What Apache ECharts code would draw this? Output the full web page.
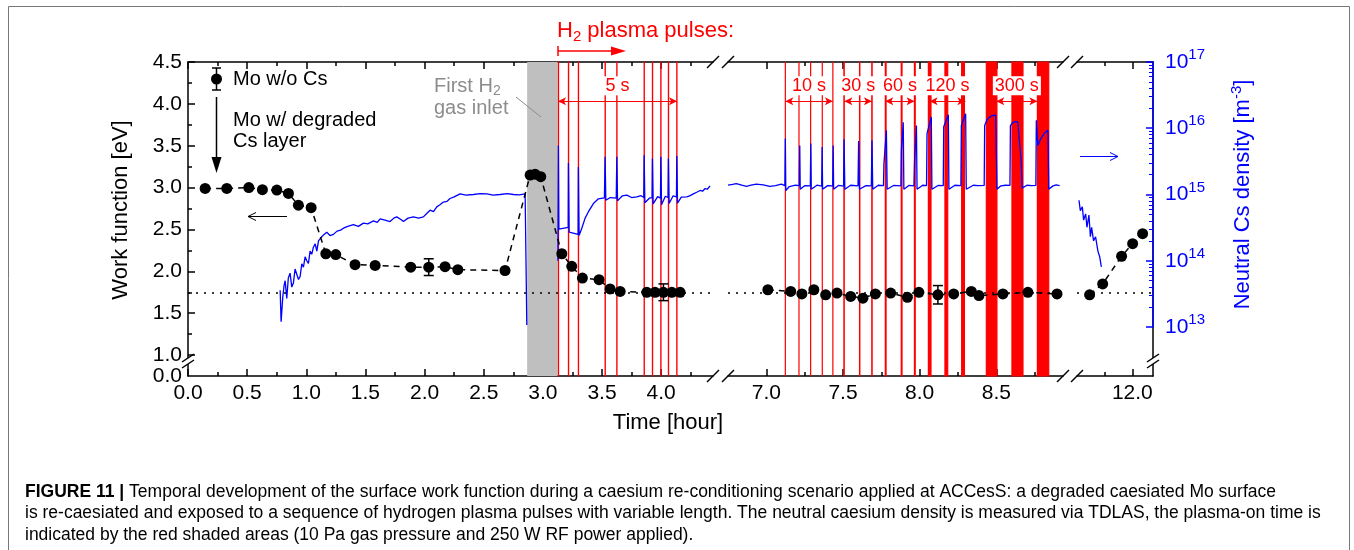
<!DOCTYPE html>
<html>
<head>
<meta charset="utf-8">
<title>Work function and neutral Cs density</title>
<script src="https://cdn.jsdelivr.net/npm/echarts@6/dist/echarts.min.js"></script>
<style>
  html, body { margin: 0; padding: 0; background: #fff; }
  #chart { width: 1354px; height: 550px; }
</style>
</head>
<body>
<div id="chart"></div>
<script>
// ---- values ----
// work function [eV], three time windows [hour]
const wfTime1 = [0.145, 0.328, 0.514, 0.629, 0.751, 0.849, 0.933, 1.041, 1.165, 1.249, 1.412, 1.582, 1.883, 2.035, 2.173, 2.281, 2.680, 2.892, 2.934, 2.982, 3.160, 3.244, 3.334, 3.475, 3.568, 3.653, 3.878, 3.948, 4.019, 4.090, 4.160];
const wfVal1 = [2.99, 2.99, 3.00, 2.975, 2.97, 2.93, 2.79, 2.76, 2.21, 2.20, 2.08, 2.07, 2.05, 2.05, 2.055, 2.02, 2.01, 3.15, 3.16, 3.13, 2.21, 2.06, 1.92, 1.90, 1.79, 1.76, 1.75, 1.75, 1.75, 1.75, 1.75];
const wfTime2 = [7.010, 7.159, 7.232, 7.310, 7.387, 7.461, 7.550, 7.630, 7.711, 7.811, 7.920, 7.995, 8.119, 8.222, 8.337, 8.387, 8.543, 8.706, 8.896];
const wfVal2 = [1.78, 1.76, 1.73, 1.78, 1.72, 1.74, 1.70, 1.68, 1.73, 1.74, 1.69, 1.75, 1.72, 1.73, 1.76, 1.71, 1.73, 1.75, 1.73];
const wfTime3 = [11.614, 11.732, 11.903, 12.003, 12.093];
const wfVal3 = [1.72, 1.85, 2.18, 2.33, 2.45];
const wfRef = 1.75; // dotted reference level

// error bars: [time, value, half width]
const errBars1 = [[2.035, 2.05, 0.10], [4.019, 1.75, 0.10]];
const errBars2 = [[8.119, 1.72, 0.11]];

// first H2 gas inlet (grey) and plasma pulses (red) [hour]
const gasInlet = [2.867, 3.124];
const pulseStart1 = [3.131, 3.216, 3.300, 3.526, 3.625, 3.856, 3.926, 3.997, 4.061, 4.132];
const pulseStart2 = [7.124, 7.213, 7.289, 7.365, 7.434, 7.506, 7.608, 7.688, 7.776, 7.880, 7.966, 8.057, 8.165, 8.274, 8.435, 8.602, 8.768];
const pulseEnd2 = [7.124, 7.213, 7.289, 7.365, 7.434, 7.508, 7.610, 7.690, 7.781, 7.885, 7.971, 8.074, 8.183, 8.292, 8.504, 8.674, 8.842];

// pulse length annotations
const durLabel1 = ['5 s'];
const durFrom1 = [3.128];
const durTo1 = [4.134];
const durLabel2 = ['10 s', '30 s', '60 s', '120 s', '300 s'];
const durFrom2 = [7.124, 7.509, 7.776, 8.065, 8.500];
const durTo2 = [7.434, 7.689, 7.967, 8.298, 8.768];
const durLevel = 4.03;

// neutral Cs density [m^-3] : [time, density]
const densSeg1a = [[0.779, 3.6e13], [0.787, 1.2e13], [0.801, 2.8e13], [0.812, 4.2e13], [0.821, 5.0e13], [0.835, 2.7e13], [0.848, 5.5e13], [0.863, 6.5e13], [0.877, 4.0e13], [0.891, 4.6e13], [0.905, 7.5e13], [0.920, 7.3e13], [0.934, 5.2e13], [0.948, 5.8e13], [0.962, 9.0e13], [0.976, 8.0e13], [0.990, 1.15e14], [1.004, 1.0e14], [1.018, 9.1e13], [1.032, 1.4e14], [1.046, 1.25e14], [1.060, 1.6e14], [1.075, 1.8e14], [1.089, 1.4e14], [1.103, 2.0e14], [1.117, 2.1e14], [1.131, 2.3e14], [1.150, 2.5e14], [1.173, 2.7e14], [1.200, 2.4e14], [1.229, 2.5e14], [1.260, 2.8e14], [1.290, 2.9e14], [1.314, 3.1e14], [1.350, 3.3e14], [1.398, 3.5e14], [1.440, 3.3e14], [1.483, 3.7e14], [1.520, 3.6e14], [1.567, 4.0e14], [1.600, 3.8e14], [1.624, 4.3e14], [1.665, 4.1e14], [1.708, 3.9e14], [1.740, 4.4e14], [1.765, 4.6e14], [1.800, 4.2e14], [1.821, 3.9e14], [1.860, 4.4e14], [1.905, 4.6e14], [1.950, 4.4e14], [1.990, 4.6e14], [2.020, 5.2e14], [2.047, 5.8e14], [2.075, 5.5e14], [2.103, 6.5e14], [2.130, 7.0e14], [2.159, 7.7e14], [2.190, 7.9e14], [2.215, 8.7e14], [2.250, 9.2e14], [2.300, 1.02e15], [2.350, 9.8e14], [2.413, 1.0e15], [2.470, 1.03e15], [2.526, 1.02e15], [2.580, 9.8e14], [2.638, 1.0e15], [2.700, 1.03e15], [2.751, 1.0e15], [2.800, 9.9e14], [2.850, 1.02e15], [2.862, 1.0e15], [2.864, 1.07e13]];
const densSeg1b = [[3.127, 1.0e14], [3.131, 5.5e15], [3.135, 3.0e14], [3.214, 3.2e14], [3.216, 3.0e15], [3.222, 2.7e14], [3.298, 2.5e14], [3.300, 2.6e15], [3.306, 2.4e14], [3.329, 3.1e14], [3.357, 4.4e14], [3.385, 5.5e14], [3.427, 7.3e14], [3.469, 8.6e14], [3.520, 8.9e14], [3.526, 3.7e15], [3.532, 8.2e14], [3.570, 9.0e14], [3.620, 8.8e14], [3.625, 3.7e15], [3.631, 8.0e14], [3.670, 9.5e14], [3.709, 9.8e14], [3.750, 9.0e14], [3.794, 9.2e14], [3.830, 9.6e14], [3.853, 9.0e14], [3.856, 3.9e15], [3.862, 7.5e14], [3.900, 8.8e14], [3.923, 9.0e14], [3.926, 3.5e15], [3.932, 7.2e14], [3.970, 9.3e14], [3.994, 8.8e14], [3.997, 3.7e15], [4.003, 7.0e14], [4.035, 9.4e14], [4.058, 9.0e14], [4.061, 3.5e15], [4.067, 7.3e14], [4.100, 9.5e14], [4.129, 9.2e14], [4.132, 3.8e15], [4.138, 7.4e14], [4.170, 9.1e14], [4.216, 9.2e14], [4.245, 9.6e14], [4.272, 1.02e15], [4.300, 1.08e15], [4.329, 1.15e15], [4.350, 1.12e15], [4.371, 1.23e15], [4.390, 1.20e15], [4.413, 1.35e15]];
const densSeg2 = [[6.750, 1.38e15], [6.780, 1.42e15], [6.804, 1.46e15], [6.840, 1.38e15], [6.870, 1.33e15], [6.900, 1.38e15], [6.935, 1.43e15], [6.980, 1.40e15], [7.022, 1.33e15], [7.060, 1.36e15], [7.098, 1.43e15], [7.121, 1.36e15],
  [7.124, 7.0e15], [7.127, 1.15e15], [7.150, 1.32e15], [7.190, 1.38e15], [7.215, 1.36e15],
  [7.218, 5.5e15], [7.221, 1.2e15], [7.250, 1.36e15], [7.287, 1.35e15],
  [7.290, 5.9e15], [7.293, 1.2e15], [7.330, 1.38e15], [7.361, 1.34e15],
  [7.364, 5.2e15], [7.367, 1.2e15], [7.400, 1.36e15], [7.433, 1.35e15],
  [7.436, 5.5e15], [7.439, 1.2e15], [7.470, 1.37e15], [7.504, 1.34e15],
  [7.507, 6.8e15], [7.512, 1.2e15], [7.550, 1.38e15], [7.598, 1.35e15],
  [7.602, 6.4e15], [7.607, 1.2e15], [7.650, 1.36e15], [7.685, 1.35e15],
  [7.689, 6.6e15], [7.694, 1.2e15], [7.730, 1.38e15], [7.764, 1.36e15],
  [7.767, 2.9e15], [7.783, 9.3e15], [7.788, 1.2e15], [7.830, 1.37e15], [7.878, 1.35e15],
  [7.881, 4.6e15], [7.893, 1.23e16], [7.897, 1.2e15], [7.930, 1.37e15], [7.963, 1.35e15],
  [7.967, 3.3e15], [7.979, 1.1e16], [7.983, 1.2e15], [8.020, 1.38e15], [8.045, 1.36e15],
  [8.048, 8.3e15], [8.076, 1.48e16], [8.080, 1.2e15], [8.120, 1.37e15], [8.154, 1.36e15],
  [8.157, 1.05e16], [8.187, 1.6e16], [8.191, 1.2e15], [8.230, 1.38e15], [8.269, 1.36e15],
  [8.272, 1.1e16], [8.300, 1.66e16], [8.304, 1.2e15], [8.350, 1.38e15], [8.380, 1.36e15], [8.421, 1.37e15],
  [8.424, 1.1e16], [8.440, 1.35e16], [8.457, 1.48e16], [8.480, 1.56e16], [8.496, 1.58e16], [8.504, 1.2e15], [8.530, 1.35e15], [8.560, 1.38e15], [8.589, 1.37e15],
  [8.592, 1.1e16], [8.606, 1.22e16], [8.620, 1.25e16], [8.640, 1.25e16], [8.652, 1.2e16], [8.663, 3.0e15], [8.668, 1.25e15], [8.700, 1.38e15], [8.730, 1.36e15], [8.758, 1.37e15],
  [8.761, 1.32e16], [8.771, 5.5e15], [8.790, 7.0e15], [8.815, 8.5e15], [8.837, 9.3e15], [8.842, 1.2e15], [8.870, 1.35e15], [8.890, 1.40e15], [8.913, 1.36e15]];
const densSeg3 = [[11.518, 8.2e14], [11.530, 5.7e14], [11.548, 6.5e14], [11.560, 4.1e14], [11.578, 5.1e14], [11.590, 3.2e14], [11.608, 4.9e14], [11.621, 2.3e14], [11.632, 3.2e14], [11.650, 2.0e14], [11.668, 2.3e14], [11.689, 1.4e14], [11.705, 1.15e14], [11.720, 8.1e13]];

// tick labels
const xMajor1 = [0, 0.5, 1.0, 1.5, 2.0, 2.5, 3.0, 3.5, 4.0];
const xMinor1 = [0.25, 0.75, 1.25, 1.75, 2.25, 2.75, 3.25, 3.75, 4.25];
const xMajor2 = [7.0, 7.5, 8.0, 8.5];
const xMinor2 = [7.25, 7.75, 8.25, 8.75];
const xMajor3 = [12.0];
const xMinor3 = [11.75];
const wfBreak = 0.75; // axis bottom, labelled 0.0
const wfMajor = [1.0, 1.5, 2.0, 2.5, 3.0, 3.5, 4.0, 4.5];
const wfMinor = [1.25, 1.75, 2.25, 2.75, 3.25, 3.75, 4.25];
const densDecades = [13, 14, 15, 16, 17];

// ---- layout ----
const FONT = '"Liberation Sans", Arial, Helvetica, sans-serif';
const RED = '#ff0000', BLUE = '#0000ff';
const axisBlack = { color: '#000', width: 1.5 };
const segs = [
  { left: 188, width: 525, min: 0, max: 4.438, major: xMajor1, minor: xMinor1 },
  { left: 728, width: 335, min: 6.75, max: 8.935, major: xMajor2, minor: xMinor2 },
  { left: 1077, width: 76, min: 11.5, max: 12.187, major: xMajor3, minor: xMinor3 }
];
const WF_TOP = 62, WF_H = 314, D_H = 265;

const grids = [], xAxes = [], yAxes = [];
segs.forEach(s => grids.push({ left: s.left, top: WF_TOP, width: s.width, height: WF_H }));
segs.forEach(s => grids.push({ left: s.left, top: WF_TOP, width: s.width, height: D_H }));

function tickAxis(gi, s, pos, vals, len, withLine, withLabels) {
  return {
    type: 'value', gridIndex: gi, position: pos, min: s.min, max: s.max,
    axisLine: { show: withLine, onZero: false, lineStyle: axisBlack },
    axisTick: { show: true, inside: true, length: len, customValues: vals, lineStyle: axisBlack },
    axisLabel: withLabels ? {
      show: true, customValues: vals, formatter: v => v.toFixed(1),
      fontSize: 21, color: '#000', fontFamily: FONT, margin: 7
    } : { show: false },
    splitLine: { show: false }
  };
}
segs.forEach((s, i) => {
  xAxes.push(tickAxis(i, s, 'bottom', s.major, 7, true, true));
  xAxes.push(tickAxis(i, s, 'bottom', s.minor, 4, false, false));
  xAxes.push(tickAxis(i, s, 'top', s.major, 7, true, false));
  xAxes.push(tickAxis(i, s, 'top', s.minor, 4, false, false));
});
segs.forEach((s, i) => xAxes.push({ type: 'value', gridIndex: 3 + i, min: s.min, max: s.max, show: false }));

// y axes: 0,1 left work function; 2 hidden; 3 right frame; 4,5 hidden log; 6,7 right log
yAxes.push({
  type: 'value', gridIndex: 0, position: 'left', min: wfBreak, max: 4.5,
  axisLine: { show: true, lineStyle: axisBlack },
  axisTick: { inside: true, length: 7, customValues: wfMajor, lineStyle: axisBlack },
  axisLabel: {
    customValues: [wfBreak].concat(wfMajor),
    formatter: v => (v === wfBreak ? '0.0' : v.toFixed(1)),
    fontSize: 21, color: '#000', fontFamily: FONT, margin: 6
  },
  splitLine: { show: false }
});
yAxes.push({
  type: 'value', gridIndex: 0, position: 'left', min: wfBreak, max: 4.5,
  axisLine: { show: false },
  axisTick: { inside: true, length: 4, customValues: wfMinor, lineStyle: axisBlack },
  axisLabel: { show: false }, splitLine: { show: false }
});
yAxes.push({ type: 'value', gridIndex: 1, min: wfBreak, max: 4.5, show: false });
yAxes.push({
  type: 'value', gridIndex: 2, position: 'right', min: wfBreak, max: 4.5,
  axisLine: { show: true, lineStyle: axisBlack },
  axisTick: { show: false }, axisLabel: { show: false }, splitLine: { show: false }
});
yAxes.push({ type: 'log', gridIndex: 3, min: 1e13, max: 1e17, show: false });
yAxes.push({ type: 'log', gridIndex: 4, min: 1e13, max: 1e17, show: false });
const densMajor = densDecades.map(d => Math.pow(10, d));
const densMinor = [];
densDecades.slice(0, -1).forEach(d => { for (let k = 2; k <= 9; k++) densMinor.push(k * Math.pow(10, d)); });
yAxes.push({
  type: 'log', gridIndex: 5, position: 'right', min: 1e13, max: 1e17, z: 3,
  name: 'Neutral Cs density [m{sup|-3}]', nameLocation: 'middle', nameGap: 76,
  nameTextStyle: {
    color: BLUE, fontSize: 22, fontFamily: FONT,
    rich: { sup: { color: BLUE, fontSize: 15, fontFamily: FONT, padding: [0, 0, 12, 0] } }
  },
  axisLine: { show: true, lineStyle: { color: BLUE, width: 1.5 } },
  axisTick: { inside: true, length: 7, customValues: densMajor, lineStyle: { color: BLUE, width: 1.5 } },
  axisLabel: {
    customValues: densMajor,
    formatter: v => '10{sup|' + Math.round(Math.log10(v)) + '}',
    color: BLUE, fontSize: 21, fontFamily: FONT, margin: 12,
    rich: { sup: { color: BLUE, fontSize: 15, fontFamily: FONT, padding: [0, 0, 14, 0] } }
  },
  splitLine: { show: false }
});
yAxes.push({
  type: 'log', gridIndex: 5, position: 'right', min: 1e13, max: 1e17, z: 3,
  axisLine: { show: false },
  axisTick: { inside: true, length: 4, customValues: densMinor, lineStyle: { color: BLUE, width: 1 } },
  axisLabel: { show: false }, splitLine: { show: false }
});

// ---- series helpers ----
const pair = (t, v) => t.map((x, i) => [x, v[i]]);
const redArea = { color: RED, borderColor: RED, borderWidth: 1.2 };

function wfSeries(seg, yIdx, times, vals) {
  return {
    name: 'Mo w/o Cs', type: 'line', xAxisIndex: seg * 4, yAxisIndex: yIdx, z: 4,
    data: pair(times, vals), symbol: 'circle', symbolSize: 11, showAllSymbol: true,
    itemStyle: { color: '#000' },
    lineStyle: { color: '#000', width: 1.5, type: [6, 5] },
    markLine: {
      silent: true, symbol: 'none', label: { show: false },
      lineStyle: { color: '#000', width: 1.5, type: [2, 6] },
      data: [{ yAxis: wfRef }]
    }
  };
}
function errSeries(seg, yIdx, bars) {
  return {
    type: 'custom', xAxisIndex: seg * 4, yAxisIndex: yIdx, z: 5,
    data: bars, encode: { x: 0, y: 1 },
    renderItem: (params, api) => {
      const t = api.value(0), v = api.value(1), e = api.value(2);
      const a = api.coord([t, v + e]), b = api.coord([t, v - e]);
      const st = { stroke: '#000', lineWidth: 1.5 };
      return {
        type: 'group', children: [
          { type: 'line', shape: { x1: a[0], y1: a[1], x2: b[0], y2: b[1] }, style: st },
          { type: 'line', shape: { x1: a[0] - 5, y1: a[1], x2: a[0] + 5, y2: a[1] }, style: st },
          { type: 'line', shape: { x1: b[0] - 5, y1: b[1], x2: b[0] + 5, y2: b[1] }, style: st }
        ]
      };
    }
  };
}
function durLines(labels, from, to) {
  return labels.map((lab, i) => [
    { coord: [from[i], durLevel], name: lab },
    { coord: [to[i], durLevel] }
  ]);
}
function pulseSeries(seg, yIdx, areas, labels, from, to) {
  return {
    type: 'line', xAxisIndex: seg * 4, yAxisIndex: yIdx, data: [], z: 1,
    markArea: { silent: true, data: areas },
    markLine: {
      silent: true, symbol: ['arrow', 'arrow'], symbolSize: [6, 8],
      lineStyle: { color: RED, width: 1, type: 'solid' },
      label: {
        show: true, position: 'insideMiddleTop', formatter: '{b}', distance: 6,
        color: RED, fontSize: 18, fontFamily: FONT,
        backgroundColor: '#fff', padding: [1, 2, 0, 2]
      },
      data: durLines(labels, from, to)
    }
  };
}
function densSeries(seg, data) {
  return {
    type: 'line', xAxisIndex: 12 + seg, yAxisIndex: 4 + seg, z: 3,
    data: data, symbol: 'none', lineStyle: { color: BLUE, width: 1.3 }
  };
}

const areas1 = [[{ xAxis: gasInlet[0], itemStyle: { color: '#bfbfbf' } }, { xAxis: gasInlet[1] }]]
  .concat(pulseStart1.map(t => [{ xAxis: t, itemStyle: redArea }, { xAxis: t + 5 / 3600 }]));
const areas2 = pulseStart2.map((t, i) => [{ xAxis: t, itemStyle: redArea }, { xAxis: pulseEnd2[i] }]);

const series = [
  pulseSeries(0, 0, areas1, durLabel1, durFrom1, durTo1),
  pulseSeries(1, 2, areas2, durLabel2, durFrom2, durTo2),
  densSeries(0, densSeg1a), densSeries(0, densSeg1b), densSeries(1, densSeg2), densSeries(2, densSeg3),
  wfSeries(0, 0, wfTime1, wfVal1), wfSeries(1, 2, wfTime2, wfVal2), wfSeries(2, 3, wfTime3, wfVal3),
  errSeries(0, 0, errBars1), errSeries(1, 2, errBars2)
];

// ---- annotations ----
const txt = (x, y, text, extra) => ({
  type: 'text', x: x, y: y, z: 20, silent: true,
  style: Object.assign({ text: text, fill: '#000', fontSize: 20, fontFamily: FONT, align: 'left', verticalAlign: 'middle' }, extra || {})
});
const ln = (x1, y1, x2, y2, color, w) => ({
  type: 'line', z: 20, silent: true, shape: { x1, y1, x2, y2 }, style: { stroke: color || '#000', lineWidth: w || 1.5 }
});
const breakMarks = [];
[713, 728, 1063, 1077].forEach(x => {
  breakMarks.push(ln(x - 6, 382, x + 6, 370));
  breakMarks.push(ln(x - 6, 68, x + 6, 56));
});
[188, 1153].forEach(x => {
  breakMarks.push({ type: 'rect', z: 19, silent: true, shape: { x: x - 3, y: 358, width: 6, height: 6 }, style: { fill: '#fff' } });
  breakMarks.push(ln(x - 6, 362, x + 6, 354));
  breakMarks.push(ln(x - 6, 368, x + 6, 360));
});
const CAP = 17.5;
const capRich = {
  b: { fontSize: CAP, fontWeight: 'bold', fontFamily: FONT, fill: '#000' },
  n: { fontSize: CAP, fontFamily: FONT, fill: '#000' }
};
const graphic = [
  { type: 'rect', z: -1, silent: true, shape: { x: 8.5, y: 6.5, width: 1341, height: 620 }, style: { fill: 'none', stroke: '#777', lineWidth: 1 } },
  // legend error bar and arrow down
  ln(216.5, 68, 216.5, 90), ln(212, 68, 221, 68), ln(212, 90, 221, 90),
  ln(216.5, 97, 216.5, 160),
  { type: 'polygon', z: 20, silent: true, shape: { points: [[211.5, 157], [221.5, 157], [216.5, 173]] }, style: { fill: '#000' } },
  txt(233, 120, 'Mo w/ degraded'), txt(233, 141, 'Cs layer'),
  // arrow to left axis
  ln(248, 216.5, 287, 216.5, '#000', 1),
  { type: 'polyline', z: 20, silent: true, shape: { points: [[256, 212.5], [248, 216.5], [256, 220.5]] }, style: { stroke: '#000', lineWidth: 1, fill: null } },
  // arrow to right axis
  ln(1080, 156.5, 1118, 156.5, BLUE, 1),
  { type: 'polyline', z: 20, silent: true, shape: { points: [[1110, 152.5], [1118, 156.5], [1110, 160.5]] }, style: { stroke: BLUE, lineWidth: 1, fill: null } },
  // first H2 gas inlet
  txt(434, 86, '{a|First H}{s|2}', { rich: { a: { fontSize: 20, fontFamily: FONT, fill: '#8c8c8c' }, s: { fontSize: 14, fontFamily: FONT, fill: '#8c8c8c', padding: [10, 0, 0, 0] } } }),
  txt(434, 108, 'gas inlet', { fill: '#8c8c8c' }),
  ln(516, 97, 541, 117, '#8c8c8c', 1),
  // H2 plasma pulses
  txt(557, 31, '{a|H}{s|2}{a| plasma pulses:}', { rich: { a: { fontSize: 22, fontFamily: FONT, fill: RED }, s: { fontSize: 15, fontFamily: FONT, fill: RED, padding: [12, 0, 0, 0] } } }),
  ln(558, 51, 615, 51, RED, 1.5), ln(558, 46, 558, 56, RED, 1.5),
  { type: 'polygon', z: 20, silent: true, shape: { points: [[611, 46.5], [611, 55.5], [626, 51]] }, style: { fill: RED } },
  // axis titles
  { type: 'text', x: 121, y: 210, rotation: Math.PI / 2, z: 20, silent: true,
    style: { text: 'Work function [eV]', fill: '#000', fontSize: 22, fontFamily: FONT, align: 'center', verticalAlign: 'middle' } },
  txt(668, 423, 'Time [hour]', { fontSize: 22, align: 'center' }),
  // caption
  txt(25, 492, '{b|FIGURE 11 | }{n|Temporal development of the surface work function during a caesium re-conditioning scenario applied at ACCesS: a degraded caesiated Mo surface}', { rich: capRich }),
  txt(25, 513, '{n|is re-caesiated and exposed to a sequence of hydrogen plasma pulses with variable length. The neutral caesium density is measured via TDLAS, the plasma-on time is}', { rich: capRich }),
  txt(25, 535, '{n|indicated by the red shaded areas (10 Pa gas pressure and 250 W RF power applied).}', { rich: capRich })
].concat(breakMarks);

const chart = echarts.init(document.getElementById('chart'));
chart.setOption({
  animation: false,
  backgroundColor: '#fff',
  textStyle: { fontFamily: FONT },
  legend: {
    data: ['Mo w/o Cs'], left: 211, top: 69, padding: 0, icon: 'circle', itemWidth: 11, itemHeight: 11,
    selectedMode: false, textStyle: { color: '#000', fontSize: 20, fontFamily: FONT, padding: [0, 0, 0, 6] }
  },
  grid: grids,
  xAxis: xAxes,
  yAxis: yAxes,
  series: series,
  graphic: graphic
});
</script>
</body>
</html>
